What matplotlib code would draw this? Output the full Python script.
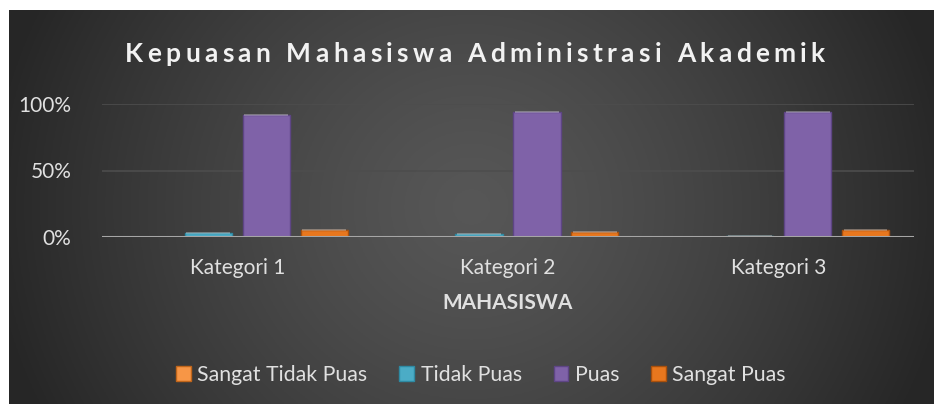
import matplotlib
matplotlib.use("Agg")
import matplotlib.pyplot as plt
from matplotlib.patches import Patch
from matplotlib.ticker import PercentFormatter
import numpy as np

# data
kategori = ['Kategori 1', 'Kategori 2', 'Kategori 3']
seri = ['Sangat Tidak Puas', 'Tidak Puas', 'Puas', 'Sangat Puas']
sangat_tidak_puas = [0.0, 0.0, 0.0]
tidak_puas = [0.03, 0.02, 0.005]
puas = [0.92, 0.94, 0.94]
sangat_puas = [0.05, 0.04, 0.05]
y_ticks = [0.0, 0.5, 1.0]

warna = ['#F79646', '#4BACC6', '#7F62A8', '#E8771E']
tepi = ['#C0651A', '#2E8AA3', '#5E4585', '#A9500C']

W, H = 936, 405
fig = plt.figure(figsize=(W / 100, H / 100), dpi=100)
fig.patch.set_facecolor('white')

# radial gradient background
bg = fig.add_axes([9 / W, 1 - 404 / H, 925 / W, 394 / H])
yy, xx = np.mgrid[-1:1:200j, -1:1:400j]
r = np.sqrt(xx ** 2 + (yy * 0.45) ** 2)
r = np.clip(r / 1.05, 0, 1)
c = 0.34 - 0.19 * r ** 1.3
bg.imshow(np.dstack([c, c, c]), aspect='auto', extent=[0, 1, 0, 1])
bg.set_axis_off()

ax = fig.add_axes([102 / W, 1 - 237 / H, 812 / W, 133 / H])
ax.set_facecolor('none')

x = np.arange(len(kategori))
lebar = 0.174
langkah = 0.214
data = [sangat_tidak_puas, tidak_puas, puas, sangat_puas]
for i, vals in enumerate(data):
    pos = x + (i - 1.5) * langkah
    ax.bar(pos, vals, width=lebar, color=warna[i], edgecolor=tepi[i],
           linewidth=1.0, zorder=3)
    # light top edge for the bevel look
    for p, v in zip(pos, vals):
        if v > 0.004:
            ax.plot([p - lebar / 2 + 0.006, p + lebar / 2 - 0.006], [v, v],
                    color='white', alpha=0.35, lw=1.2, zorder=4,
                    solid_capstyle='butt')

ax.set_xlim(-0.5, 2.5)
ax.set_ylim(0, 1)
ax.set_yticks(y_ticks)
ax.yaxis.set_major_formatter(PercentFormatter(1.0, decimals=0))
ax.grid(axis='y', color='#4d4d4d', lw=1.2, zorder=0)
ax.axhline(0, color='#a6a6a6', lw=2.2, zorder=5)
for s in ax.spines.values():
    s.set_visible(False)
ax.tick_params(length=0, colors='#e0e0e0', labelsize=15, pad=22)
ax.tick_params(axis='x', pad=15)
ax.set_xticks(x)
ax.set_xticklabels(kategori, fontsize=15, fontfamily='Lato')
for lab in ax.get_yticklabels():
    lab.set_fontfamily('Lato')
ax.set_xlabel('MAHASISWA', fontsize=15, fontweight='bold', color='#e0e0e0',
              fontfamily='Lato', labelpad=11)

# title with wide letter spacing, placed char by char
judul = 'Kepuasan Mahasiswa Administrasi Akademik'
renderer = fig.canvas.get_renderer()
spasi = 4.3
ukuran = 19
lebar_huruf = []
for ch in judul:
    t = fig.text(0, 0, ch if ch != ' ' else 'a', fontsize=ukuran,
                 fontweight='bold', fontfamily='Lato')
    w = t.get_window_extent(renderer).width
    if ch == ' ':
        w *= 0.55
    lebar_huruf.append(w)
    t.remove()
total = sum(lebar_huruf) + spasi * (len(judul) - 1)
x0 = 475 - total / 2
for ch, w in zip(judul, lebar_huruf):
    if ch != ' ':
        fig.text(x0 / W, 1 - 54 / H, ch, fontsize=ukuran, fontweight='bold',
                 fontfamily='Lato', color='#f2f2f2', va='center', ha='left')
    x0 += w + spasi

handles = [Patch(facecolor=warna[i], edgecolor=tepi[i], label=seri[i])
           for i in range(4)]
leg = fig.legend(handles=handles, loc='center', ncol=4,
                 bbox_to_anchor=(481 / W, 1 - 375 / H), frameon=False,
                 prop={'family': 'Lato', 'size': 15.3},
                 handlelength=0.7, handleheight=0.7, handletextpad=0.3,
                 columnspacing=1.5, labelcolor='#e0e0e0')

fig.savefig('out.png', dpi=100, facecolor='white')
